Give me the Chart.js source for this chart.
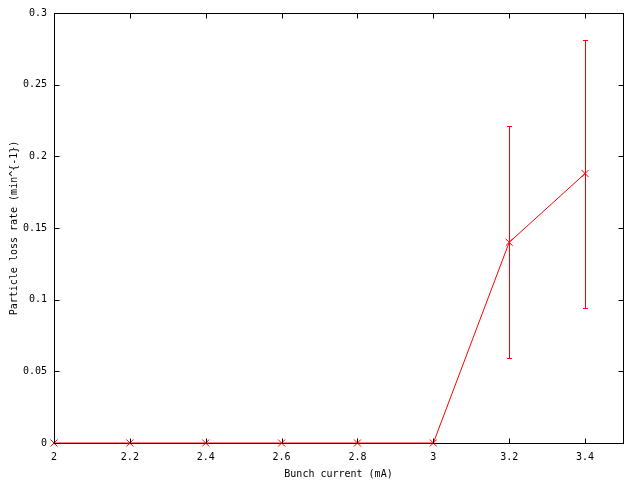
<!DOCTYPE html>
<html>
<head>
<meta charset="utf-8">
<script src="https://cdn.jsdelivr.net/npm/chart.js@4/dist/chart.umd.min.js"></script>
<style>
html,body{margin:0;padding:0;background:#fff;}
#wrap{width:640px;height:480px;}
</style>
</head>
<body>
<div id="wrap"><canvas id="c" width="640" height="480"></canvas></div>
<script>
const current = [2.0, 2.2, 2.4, 2.6, 2.8, 3.0, 3.2, 3.4];
const lossRate = [0, 0, 0, 0, 0, 0, 0.140, 0.188];
const errLow = [0, 0, 0, 0, 0, 0, 0.059, 0.094];
const errHigh = [0, 0, 0, 0, 0, 0, 0.221, 0.281];
const xTicks = [2, 2.2, 2.4, 2.6, 2.8, 3, 3.2, 3.4];
const xTickLabels = ['2', '2.2', '2.4', '2.6', '2.8', '3', '3.2', '3.4'];
const yTicks = [0, 0.05, 0.1, 0.15, 0.2, 0.25, 0.3];
const yTickLabels = ['0', '0.05', '0.1', '0.15', '0.2', '0.25', '0.3'];

const FONT = {family: '"DejaVu Sans Mono", "Liberation Mono", monospace', size: 10};
const RED = 'rgb(255,0,0)';

const framePlugin = {
  id: 'frame',
  beforeDatasetsDraw(chart) {
    const {ctx, chartArea: a} = chart;
    ctx.save();
    ctx.strokeStyle = '#000000';
    ctx.lineWidth = 1;
    ctx.strokeRect(Math.round(a.left) + 0.5, Math.round(a.top) + 0.5,
      Math.round(a.right) - Math.round(a.left), Math.round(a.bottom) - Math.round(a.top));
    ctx.restore();
  },
  afterDatasetsDraw(chart) {
    const {ctx, chartArea: a, scales: {x, y}} = chart;
    // inward tick marks (mirrored)
    ctx.save();
    ctx.strokeStyle = '#000000';
    ctx.lineWidth = 1;
    const T = 5;
    const L = Math.round(a.left) + 0.5, R = Math.round(a.right) + 0.5;
    const B = Math.round(a.bottom) + 0.5, Tp = Math.round(a.top) + 0.5;
    ctx.beginPath();
    xTicks.forEach(v => {
      const px = Math.round(x.getPixelForValue(v)) + 0.5;
      ctx.moveTo(px, B); ctx.lineTo(px, B - T);
      ctx.moveTo(px, Tp); ctx.lineTo(px, Tp + T);
    });
    yTicks.forEach(v => {
      const py = Math.round(y.getPixelForValue(v)) + 0.5;
      ctx.moveTo(L, py); ctx.lineTo(L + T, py);
      ctx.moveTo(R, py); ctx.lineTo(R - T, py);
    });
    ctx.stroke();
    ctx.restore();
    // error bars (drawn as 1px filled rectangles)
    ctx.save();
    ctx.fillStyle = RED;
    for (let i = 0; i < current.length; i++) {
      if (errHigh[i] <= errLow[i]) continue;
      const px = Math.round(x.getPixelForValue(current[i]));
      const lo = Math.round(y.getPixelForValue(errLow[i]));
      const hi = Math.round(y.getPixelForValue(errHigh[i]));
      ctx.fillRect(px, hi, 1, lo - hi + 1);
      ctx.fillRect(px - 2, hi, 5, 1);
      ctx.fillRect(px - 2, lo, 5, 1);
    }
    ctx.restore();
  }
};

new Chart(document.getElementById('c'), {
  type: 'line',
  data: {
    datasets: [{
      data: current.map((c, i) => ({x: c, y: lossRate[i]})),
      borderColor: RED,
      backgroundColor: RED,
      borderWidth: 1,
      pointStyle: 'crossRot',
      pointRadius: 5,
      pointBorderWidth: 1,
      pointBorderColor: RED,
      tension: 0,
      fill: false,
      clip: false
    }]
  },
  options: {
    responsive: false,
    animation: false,
    devicePixelRatio: 1,
    layout: {padding: {top: 12, right: 17, left: 0, bottom: 0}},
    plugins: {legend: {display: false}, tooltip: {enabled: false}},
    scales: {
      x: {
        type: 'linear', min: 2, max: 3.5,
        grid: {display: false, drawTicks: false},
        border: {display: false},
        afterBuildTicks: s => { s.ticks = xTicks.map(v => ({value: v})); },
        afterFit: s => { s.height = 37; },
        ticks: {
          color: '#000', font: FONT, padding: 8, maxRotation: 0, autoSkip: false,
          callback: (v) => { const i = xTicks.findIndex(t => Math.abs(t - v) < 1e-9); return i >= 0 ? xTickLabels[i] : ''; }
        },
        title: {display: true, text: 'Bunch current (mA)', color: '#000', font: FONT, padding: {top: 0, bottom: 0}}
      },
      y: {
        type: 'linear', min: 0, max: 0.3,
        grid: {display: false, drawTicks: false},
        border: {display: false},
        afterBuildTicks: s => { s.ticks = yTicks.map(v => ({value: v})); },
        afterFit: s => { s.width = 54; },
        ticks: {
          color: '#000', font: FONT, padding: 7, autoSkip: false,
          callback: (v) => { const i = yTicks.findIndex(t => Math.abs(t - v) < 1e-9); return i >= 0 ? yTickLabels[i] : ''; }
        },
        title: {display: true, text: 'Particle loss rate (min^{-1})', color: '#000', font: FONT, padding: {top: 8, bottom: 0}}
      }
    }
  },
  plugins: [framePlugin]
});
</script>
</body>
</html>
